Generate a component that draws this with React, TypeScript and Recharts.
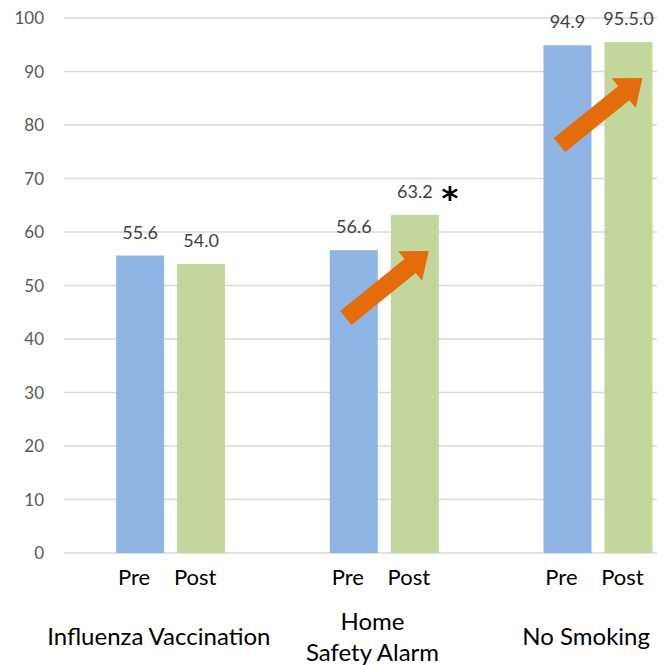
import { BarChart, Bar, XAxis, YAxis, CartesianGrid, LabelList } from "recharts";

const categories = [["Influenza Vaccination"], ["Home", "Safety Alarm"], ["No Smoking"]];
const preValues = [55.6, 56.6, 94.9];
const postValues = [54.0, 63.2, 95.5];
const preLabels = ["55.6", "56.6", "94.9"];
const postLabels = ["54.0", "63.2", "95.5.0"];
const significant = [false, true, false];
const showArrow = [false, true, true];
const yTicks = [0, 10, 20, 30, 40, 50, 60, 70, 80, 90, 100];

const data = categories.map((lines, i) => ({
  name: lines.join(" "),
  lines,
  pre: preValues[i],
  post: postValues[i],
  preLabel: preLabels[i],
  postLabel: postLabels[i],
}));

const FONT = "Lato, 'Noto Sans', sans-serif";
const PRE_COLOR = "#8EB4E3";
const POST_COLOR = "#C3D69B";
const ARROW_COLOR = "#E46C0A";

function arrowPoints(x1: number, y1: number, x2: number, y2: number) {
  const shaft = 18;
  const headW = 38;
  const headL = 24;
  const len = Math.hypot(x2 - x1, y2 - y1);
  const dx = (x2 - x1) / len;
  const dy = (y2 - y1) / len;
  const nx = -dy;
  const ny = dx;
  const bx = x2 - dx * headL;
  const by = y2 - dy * headL;
  const pts = [
    [x1 + (nx * shaft) / 2, y1 + (ny * shaft) / 2],
    [bx + (nx * shaft) / 2, by + (ny * shaft) / 2],
    [bx + (nx * headW) / 2, by + (ny * headW) / 2],
    [x2, y2],
    [bx - (nx * headW) / 2, by - (ny * headW) / 2],
    [bx - (nx * shaft) / 2, by - (ny * shaft) / 2],
    [x1 - (nx * shaft) / 2, y1 - (ny * shaft) / 2],
  ];
  return pts.map((p) => p.join(",")).join(" ");
}

function makeShape(label: string, color: string, isPost: boolean) {
  return (props: any) => {
    const { x, y, width, height, index } = props;
    const bottom = y + height;
    return (
      <g>
        <rect x={x} y={y} width={width} height={height} fill={color} />
        <text
          x={x + width / 2 - 6}
          y={bottom + 26}
          textAnchor="middle"
          dominantBaseline="middle"
          fontFamily={FONT}
          fontSize={22}
          fill="#000"
        >
          {label}
        </text>
        {isPost && significant[index] && (
          <text
            x={x + width + 11}
            y={y - 6}
            textAnchor="middle"
            fontFamily="'DejaVu Sans', sans-serif"
            fontSize={32}
            fontWeight="bold"
            fill="#000"
          >
            *
          </text>
        )}
        {isPost && showArrow[index] && (
          <polygon points={arrowPoints(x - 45, y + 103, x + 38, y + 36)} fill={ARROW_COLOR} />
        )}
      </g>
    );
  };
}

function CategoryTick(props: any) {
  const { x, y, payload } = props;
  const lines: string[] = categories[payload.index] || [payload.value];
  const lineH = 31;
  const startY = y + 78 - ((lines.length - 1) * lineH) / 2;
  return (
    <g>
      {lines.map((line, i) => (
        <text
          key={i}
          x={x - 12}
          y={startY + i * lineH}
          textAnchor="middle"
          dominantBaseline="middle"
          fontFamily={FONT}
          fontSize={24}
          fill="#000"
        >
          {line}
        </text>
      ))}
    </g>
  );
}

export default function App() {
  return (
    <div style={{ width: 657, height: 657, overflow: "hidden" }}>
      <BarChart
        width={720}
        height={657}
        data={data}
        margin={{ top: 10, right: 23, bottom: 0, left: 0 }}
        barCategoryGap="24.4%"
        barGap={13}
      >
        <CartesianGrid vertical={false} stroke="#D9D9D9" strokeWidth={1.5} />
        <XAxis
          dataKey="name"
          height={112}
          axisLine={false}
          tickLine={false}
          interval={0}
          tick={<CategoryTick />}
        />
        <YAxis
          width={56}
          domain={[0, 100]}
          ticks={yTicks}
          axisLine={false}
          tickLine={false}
          tickSize={0}
          tickMargin={20}
          tick={{ fill: "#595959", fontSize: 17, fontFamily: FONT }}
        />
        <Bar dataKey="pre" fill={PRE_COLOR} isAnimationActive={false} shape={makeShape("Pre", PRE_COLOR, false)}>
          <LabelList dataKey="preLabel" position="top" offset={17} fill="#404040" fontSize={18} fontFamily={FONT} />
        </Bar>
        <Bar dataKey="post" fill={POST_COLOR} isAnimationActive={false} shape={makeShape("Post", POST_COLOR, true)}>
          <LabelList dataKey="postLabel" position="top" offset={17} fill="#404040" fontSize={18} fontFamily={FONT} />
        </Bar>
      </BarChart>
    </div>
  );
}
